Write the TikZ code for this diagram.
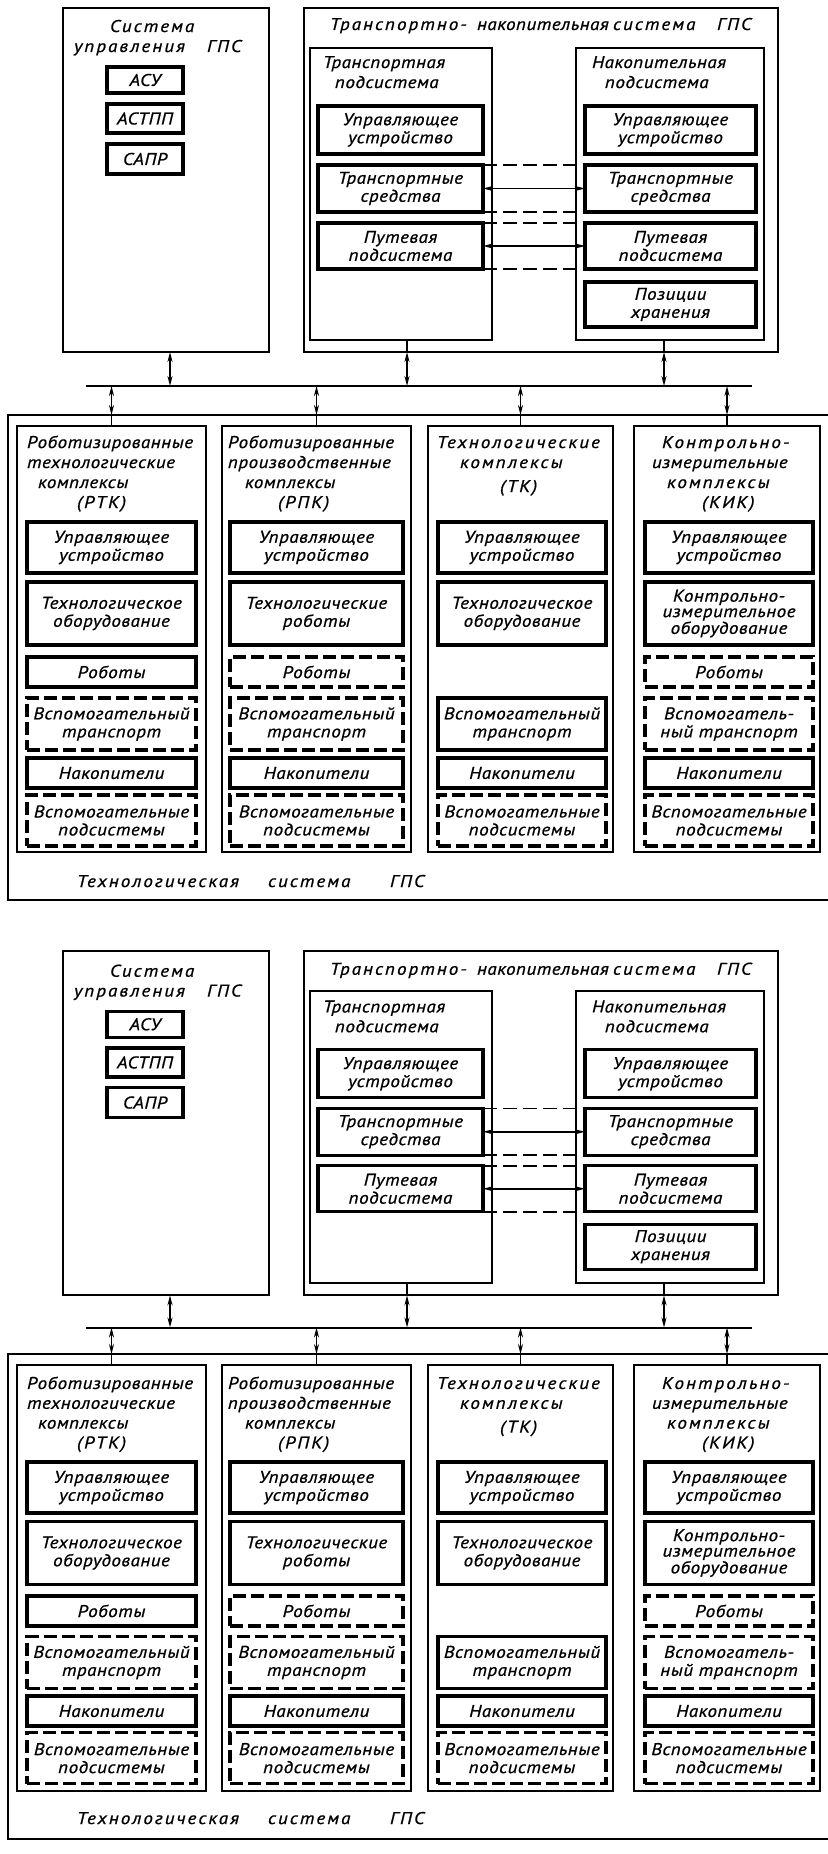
\documentclass[tikz,border=0pt]{standalone}
\usepackage{fontspec}
\setmainfont{PT Sans}[FakeStretch=1.12, LetterSpace=3, FakeBold=0.8]
\newfontfamily\widefont{PT Sans}[FakeStretch=1.12, LetterSpace=12, FakeBold=0.8]
\usetikzlibrary{arrows.meta}
\tikzset{
  every node/.style={inner sep=0pt, outer sep=0pt},
  gfont/.style={font=\fontsize{17}{18}\selectfont\itshape},
  thinbox/.style={draw, line width=1.8pt},
  boldbox/.style={draw, line width=3.2pt, gfont, align=center},
  dashbox/.style={boldbox, dash pattern=on 13pt off 5pt},
  lbl/.style={gfont, anchor=base west},
  widelbl/.style={font=\fontsize{17}{18}\widefont\itshape, anchor=base west},
  tip/.tip={Stealth[length=10pt,width=5pt]},
  conn/.style={line width=1.6pt, tip-tip},
  plainline/.style={line width=1.6pt},
  dconn/.style={line width=1.6pt, dash pattern=on 14pt off 6pt},
  busline/.style={line width=2pt},
}
% #1 style, #2 x1, #3 y1, #4 x2, #5 y2, #6 name, #7 text
\newcommand\bx[7][]{\node[#1, minimum width={#4-#2}, minimum height={#5-#3}] (#6) at ({(#2+#4)/2},{(#3+#5)/2}) {#7};}
% #1 name, #2 x, #3 y (line centre), #4 text
\newcommand\lb[4]{\node[lbl] (#1) at (#2,{#3+5}) {#4};}
\newcommand\wl[4]{\node[widelbl] (#1) at (#2,{#3+5}) {#4};}
\newcommand\gpsdiagram{%
  % control system
  \bx[thinbox]{63}{8}{269}{352}{ctl}{}
  \wl{ctlA}{110}{27}{Система}
  \wl{ctlB}{74}{47}{управления}
  \wl{ctlC}{207}{47}{ГПС}
  \bx[boldbox]{107}{67}{183}{93}{asu}{АСУ}
  \bx[boldbox]{107}{104}{183}{133}{astpp}{АСТПП}
  \bx[boldbox]{107}{144}{183}{174}{sapr}{САПР}
  % transport-storage system
  \bx[thinbox]{304}{8}{778}{352}{tns}{}
  \wl{tnsA}{330}{25}{Транспортно-}
  \lb{tnsB}{477}{25}{накопительная}
  \wl{tnsC}{613}{25}{система}
  \wl{tnsD}{717}{25}{ГПС}
  \bx[thinbox]{310}{48}{492}{340}{tsub}{}
  \lb{tsubA}{323}{63}{Транспортная}
  \lb{tsubB}{335}{83}{подсистема}
  \bx[thinbox]{576}{48}{764}{340}{ssub}{}
  \lb{ssubA}{592}{63}{Накопительная}
  \lb{ssubB}{605}{83}{подсистема}
  \bx[boldbox]{318}{106}{483}{154}{lu}{Управляющее\\устройство}
  \bx[boldbox]{318}{165}{483}{212}{lt}{Транспортные\\средства}
  \bx[boldbox]{318}{223}{483}{269}{lp}{Путевая\\подсистема}
  \bx[boldbox]{585}{106}{756}{154}{ru}{Управляющее\\устройство}
  \bx[boldbox]{585}{165}{756}{212}{rt}{Транспортные\\средства}
  \bx[boldbox]{585}{223}{756}{269}{rp}{Путевая\\подсистема}
  \bx[boldbox]{585}{282}{756}{327}{rs}{Позиции\\хранения}
  \draw[dconn] (lt.north east) -- (rt.north west);
  \draw[dconn] (lt.south east) -- (rt.south west);
  \draw[dconn] (lp.north east) -- (rp.north west);
  \draw[dconn] (lp.south east) -- (rp.south west);
  \draw[conn] (lt.east) -- (rt.west);
  \draw[conn] (lp.east) -- (rp.west);
  % bus
  \coordinate (busL) at (86,386);
  \coordinate (busR) at (752,386);
  \draw[busline] (busL) -- (busR);
  \draw[conn] ([xshift=4pt]ctl.south) -- ([xshift=4pt]ctl.south |- busL);
  \coordinate (tA) at ([xshift=6pt]tsub.south);
  \draw[plainline] (tA) -- (tA |- tns.south);
  \draw[conn] (tA |- tns.south) -- (tA |- busL);
  \coordinate (sA) at ([xshift=-6pt]ssub.south);
  \draw[plainline] (sA) -- (sA |- tns.south);
  \draw[conn] (sA |- tns.south) -- (sA |- busL);
  % technological system
  \bx[thinbox]{8}{415}{845}{900}{tech}{}
  \wl{techA}{77}{882}{Технологическая}
  \wl{techB}{268}{882}{система}
  \wl{techC}{390}{882}{ГПС}
  \bx[thinbox]{17}{426}{206}{852}{c1}{}
  \bx[thinbox]{222}{426}{411}{852}{c2}{}
  \bx[thinbox]{428}{426}{613}{852}{c3}{}
  \bx[thinbox]{634}{426}{820}{852}{c4}{}
  \foreach \c in {c1,c2,c3,c4}{
    \draw[conn] (\c.north |- busL) -- (\c.north |- tech.north);
    \draw[plainline] (\c.north |- tech.north) -- (\c.north);
  }
  % column titles
  \lb{c1a}{27}{443}{Роботизированные}
  \lb{c1b}{27}{463}{технологические}
  \lb{c1c}{38}{483}{комплексы}
  \wl{c1d}{77}{503}{(РТК)}
  \lb{c2a}{228}{443}{Роботизированные}
  \lb{c2b}{228}{463}{производственные}
  \lb{c2c}{245}{483}{комплексы}
  \wl{c2d}{278}{503}{(РПК)}
  \wl{c3a}{437}{443}{Технологические}
  \wl{c3b}{460}{463}{комплексы}
  \wl{c3c}{500}{487}{(ТК)}
  \wl{c4a}{662}{443}{Контрольно-}
  \lb{c4b}{652}{463}{измерительные}
  \wl{c4c}{667}{483}{комплексы}
  \wl{c4d}{702}{503}{(КИК)}
  % column 1
  \bx[boldbox]{27}{522}{196}{573}{c1r1}{Управляющее\\устройство}
  \bx[boldbox]{27}{582}{196}{645}{c1r2}{Технологическое\\оборудование}
  \bx[boldbox]{27}{657}{196}{687}{c1r3}{Роботы}
  \bx[dashbox]{27}{698}{196}{750}{c1r4}{Вспомогательный\\транспорт}
  \bx[boldbox]{27}{758}{196}{788}{c1r5}{Накопители}
  \bx[dashbox]{27}{795}{196}{846}{c1r6}{Вспомогательные\\подсистемы}
  % column 2
  \bx[boldbox]{230}{522}{403}{573}{c2r1}{Управляющее\\устройство}
  \bx[boldbox]{230}{582}{403}{645}{c2r2}{Технологические\\роботы}
  \bx[dashbox]{230}{657}{403}{687}{c2r3}{Роботы}
  \bx[dashbox]{230}{698}{403}{750}{c2r4}{Вспомогательный\\транспорт}
  \bx[boldbox]{230}{758}{403}{788}{c2r5}{Накопители}
  \bx[dashbox]{230}{795}{403}{846}{c2r6}{Вспомогательные\\подсистемы}
  % column 3
  \bx[boldbox]{438}{522}{606}{573}{c3r1}{Управляющее\\устройство}
  \bx[boldbox]{438}{582}{606}{645}{c3r2}{Технологическое\\оборудование}
  \bx[boldbox]{438}{698}{606}{750}{c3r4}{Вспомогательный\\транспорт}
  \bx[boldbox]{438}{758}{606}{788}{c3r5}{Накопители}
  \bx[dashbox]{438}{795}{606}{846}{c3r6}{Вспомогательные\\подсистемы}
  % column 4
  \bx[boldbox]{645}{522}{813}{573}{c4r1}{Управляющее\\устройство}
  \bx[boldbox, font=\fontsize{17}{15.5}\selectfont\itshape]{645}{582}{813}{645}{c4r2}{Контрольно-\\измерительное\\оборудование}
  \bx[dashbox]{645}{657}{813}{687}{c4r3}{Роботы}
  \bx[dashbox]{645}{698}{813}{750}{c4r4}{Вспомогатель-\\ный транспорт}
  \bx[boldbox]{645}{758}{813}{788}{c4r5}{Накопители}
  \bx[dashbox]{645}{795}{813}{846}{c4r6}{Вспомогательные\\подсистемы}
}
\begin{document}
\begin{tikzpicture}[x=1pt,y=-1pt]
  \fill[white] (0,0) rectangle (827,1854);
  \useasboundingbox (0,0) rectangle (827,1854);
  \begin{scope}[name prefix=a-]
    \gpsdiagram
  \end{scope}
  \begin{scope}[name prefix=b-, shift={(0,945)}, yscale=0.991]
    \gpsdiagram
  \end{scope}
\end{tikzpicture}
\end{document}
